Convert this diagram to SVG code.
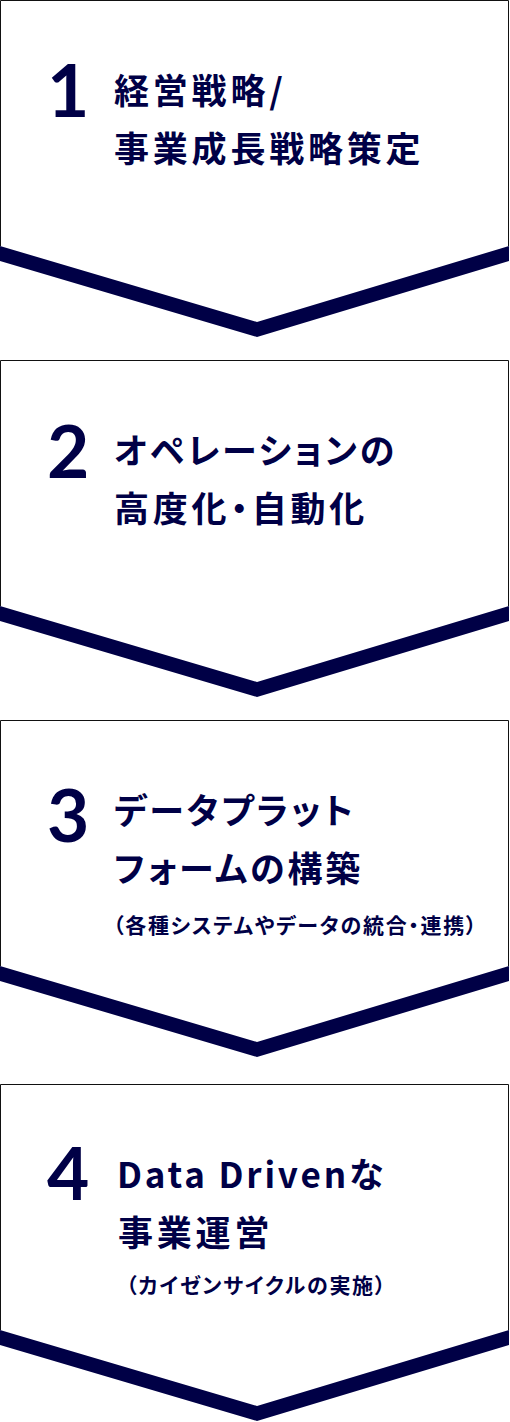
<svg xmlns="http://www.w3.org/2000/svg" width="510" height="1422" viewBox="0 0 510 1422">
<style>
.frame{fill:#fff;stroke:#111;stroke-width:1}
.band{fill:#000046}
.num{font-family:Lato,"Liberation Sans",sans-serif;font-weight:700;font-size:73px;fill:#000046}
.t{font-family:"Noto Sans CJK JP",sans-serif;font-weight:700;font-size:35px;letter-spacing:3.8px;fill:#000046;font-feature-settings:"palt"}
.k{letter-spacing:2.8px}
.s{font-family:"Noto Sans CJK JP",sans-serif;font-weight:700;font-size:21px;letter-spacing:1.7px;fill:#000046;font-feature-settings:"palt"}
</style>
<defs>
<path id="frame" class="frame" d="M0.5,246 V0.5 H508.5 V246"/>
<polygon id="band" class="band" points="0,246 257,322 509,246 509,261 257,337 0,261"/>
</defs>
<rect width="510" height="1422" fill="#fff"/>
<g id="step1">
<polygon points="0,0 509,0 509,246 257,322 0,246" fill="#fff"/>
<use href="#frame"/><use href="#band"/>
<text class="num" x="47" y="117">1</text>
<text class="t" x="114" y="104">経営戦略/</text>
<text class="t" x="114" y="162">事業成長戦略策定</text>
</g>
<g id="step2" transform="translate(0,360)">
<polygon points="0,0 509,0 509,246 257,322 0,246" fill="#fff"/>
<use href="#frame"/><use href="#band"/>
<text class="num" x="47" y="118">2</text>
<text class="t k" x="114" y="104">オペレーションの</text>
<text class="t" x="114" y="162">高度化・自動化</text>
</g>
<g id="step3" transform="translate(0,720)">
<polygon points="0,0 509,0 509,246 257,322 0,246" fill="#fff"/>
<use href="#frame"/><use href="#band"/>
<text class="num" x="47" y="122">3</text>
<text class="t k" x="114" y="104">データプラット</text>
<text class="t k" x="114" y="162">フォームの構築</text>
<text class="s" x="113" y="213">（各種システムやデータの統合・連携）</text>
</g>
<g id="step4" transform="translate(0,1084)">
<polygon points="0,0 509,0 509,246 257,322 0,246" fill="#fff"/>
<use href="#frame"/><use href="#band"/>
<text class="num" x="47" y="116">4</text>
<text class="t k" x="117" y="104">Data Drivenな</text>
<text class="t" x="118" y="162">事業運営</text>
<text class="s" x="126" y="209">（カイゼンサイクルの実施）</text>
</g>
<g id="connectors"></g>
</svg>
